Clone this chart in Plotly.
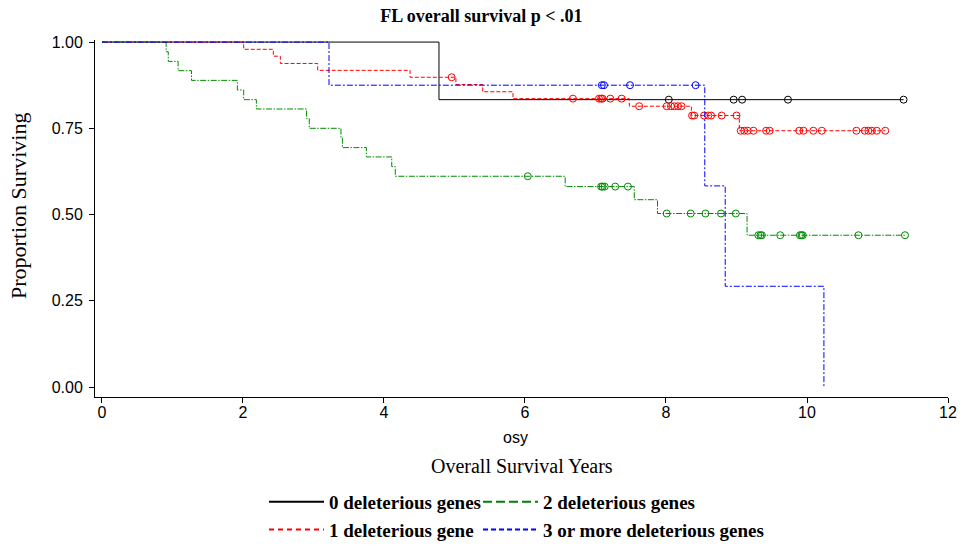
import numpy as np
import plotly.graph_objects as go

# ---------------- data ----------------
groups = ["0 deleterious genes", "1 deleterious gene", "2 deleterious genes", "3 or more deleterious genes"]

# event times (years) and Kaplan-Meier survival just after each event
g0_event_t = [4.78]
g0_surv = [0.833]
g0_censor = [8.04, 8.96, 9.08, 9.73, 11.37]

g1_event_t = [2.01, 2.43, 2.53, 3.06, 4.37, 5.02, 5.40, 5.83, 7.48, 8.36, 9.04]
g1_surv = [0.979, 0.959, 0.938, 0.918, 0.898, 0.877, 0.856, 0.836, 0.814, 0.787, 0.743]
g1_censor = [4.96, 6.68, 7.05, 7.08, 7.10, 7.21, 7.37, 7.62, 8.01, 8.07, 8.12, 8.17, 8.22,
             8.37, 8.40, 8.54, 8.60, 8.64, 8.79, 9.00, 9.06, 9.11, 9.16, 9.24, 9.42, 9.47,
             9.89, 9.95, 10.09, 10.21, 10.70, 10.82, 10.87, 10.92, 10.99, 11.11]

g2_event_t = [0.91, 0.94, 1.08, 1.27, 1.92, 2.01, 2.19, 2.90, 2.94, 3.39, 3.41, 3.75, 4.11, 4.16,
              6.57, 7.55, 7.88, 9.15]
g2_surv = [0.972, 0.944, 0.917, 0.889, 0.861, 0.833, 0.806, 0.778, 0.750, 0.722, 0.694, 0.667,
           0.639, 0.611, 0.581, 0.543, 0.503, 0.440]
g2_censor = [6.04, 7.08, 7.10, 7.13, 7.28, 7.46, 8.01, 8.35, 8.56, 8.78, 8.99, 9.31, 9.34, 9.36,
             9.62, 9.90, 9.92, 9.94, 10.73, 11.39]

g3_event_t = [3.22, 8.55, 8.84, 10.24]
g3_surv = [0.875, 0.583, 0.292, 0.0]
g3_censor = [7.09, 7.12, 7.49, 8.42]

x_ticks = [0, 2, 4, 6, 8, 10, 12]
y_ticks = [0.0, 0.25, 0.50, 0.75, 1.00]

# ---------------- styles ----------------
colors = ["#000000", "#ff0000", "#008b00", "#0000ff"]
legend_colors = ["#000000", "#ff0000", "#008000", "#0000ff"]
dashes = ["solid", "4px,2px", "6px,1.5px,1.5px,1.5px", "6px,2px,2px,2px"]
legend_dashes = ["solid", "5px,4px", "9px,4px", "5px,3px"]
legend_ids = ["legend", "legend", "legend2", "legend2"]

serif = "Liberation Serif, Times New Roman, serif"
sans = "Liberation Sans, Arial, sans-serif"

fig = go.Figure()

series = [
    (g0_event_t, g0_surv, g0_censor),
    (g1_event_t, g1_surv, g1_censor),
    (g2_event_t, g2_surv, g2_censor),
    (g3_event_t, g3_surv, g3_censor),
]

for i, (et, sv, cens) in enumerate(series):
    xs = [0.0] + list(et)
    ys = [1.0] + list(sv)
    last = max(list(et) + list(cens))
    if last > xs[-1]:
        xs.append(last)
        ys.append(ys[-1])
    fig.add_trace(go.Scatter(
        x=xs, y=ys, mode="lines", line=dict(shape="hv", color=colors[i], width=1, dash=dashes[i]),
        name=groups[i], showlegend=False, hoverinfo="skip",
    ))
    # censor marks placed on the step curve
    et_arr = np.array(et)
    sv_arr = np.array([1.0] + list(sv))
    cy = [sv_arr[np.searchsorted(et_arr, c, side="right")] for c in cens]
    fig.add_trace(go.Scatter(
        x=cens, y=cy, mode="markers",
        marker=dict(symbol="circle-open", size=7, color=colors[i], line=dict(width=1, color=colors[i])),
        showlegend=False, hoverinfo="skip",
    ))

# legend-only entries (thicker sample lines, as in the reference key)
for i in range(len(groups)):
    fig.add_trace(go.Scatter(
        x=[None], y=[None], mode="lines",
        line=dict(color=legend_colors[i], width=2, dash=legend_dashes[i]),
        name="<b>" + groups[i] + "</b>", legend=legend_ids[i], legendgroup=groups[i],
        showlegend=True, hoverinfo="skip",
    ))

ML, MR, MT, MB = 95, 15, 40, 149
W, H = 963, 546
pw = W - ML - MR
ph = H - MT - MB

def px_x(px):
    return (px - ML) / pw

def px_y(py):
    return (H - MB - py) / ph

fig.update_layout(
    width=W, height=H,
    margin=dict(l=ML, r=MR, t=MT, b=MB, autoexpand=False),
    paper_bgcolor="white", plot_bgcolor="white",
    title=dict(text="<b>FL overall survival p < .01</b>", x=0.5, xref="container",
               y=1 - 16 / H, yanchor="middle", xanchor="center",
               font=dict(family=serif, size=18, color="black")),
    xaxis=dict(range=[-0.099, 12.0], tickvals=x_ticks, ticktext=[str(v) for v in x_ticks],
               showgrid=False, zeroline=False, showline=True, linecolor="black", linewidth=1,
               ticks="outside", ticklen=5, tickcolor="black", automargin=False,
               ticklabelstandoff=-4,
               tickfont=dict(family=sans, size=16, color="black")),
    yaxis=dict(range=[-0.029, 1.006], tickvals=y_ticks, ticktext=[f"{v:.2f}" for v in y_ticks],
               showgrid=False, zeroline=False, showline=True, linecolor="black", linewidth=1,
               ticks="outside", ticklen=5, tickcolor="black", automargin=False,
               ticklabelstandoff=3,
               tickfont=dict(family=sans, size=16, color="black")),
    legend=dict(xref="container", yref="container", x=264 / W, y=1 - 483 / H,
                xanchor="left", yanchor="top",
                font=dict(family=serif, size=19, color="black"), bgcolor="rgba(0,0,0,0)",
                itemwidth=55, tracegroupgap=0, orientation="v"),
    legend2=dict(xref="container", yref="container", x=478 / W, y=1 - 483 / H,
                 xanchor="left", yanchor="top",
                 font=dict(family=serif, size=19, color="black"), bgcolor="rgba(0,0,0,0)",
                 itemwidth=55, tracegroupgap=0, orientation="v"),
    annotations=[
        dict(text="osy", xref="paper", yref="paper", x=px_x(515), y=px_y(437),
             xanchor="center", yanchor="middle", showarrow=False,
             font=dict(family=sans, size=16, color="black")),
        dict(text="Overall Survival Years", xref="paper", yref="paper", x=px_x(522), y=px_y(466),
             xanchor="center", yanchor="middle", showarrow=False,
             font=dict(family=serif, size=20, color="black")),
        dict(text="Proportion Surviving", xref="paper", yref="paper", x=px_x(18), y=px_y(206),
             xanchor="center", yanchor="middle", showarrow=False, textangle=-90,
             font=dict(family=serif, size=22, color="black")),
    ],
)

fig.write_html("out.html", config={"displayModeBar": False},
               post_script="document.body.style.margin='0';")
